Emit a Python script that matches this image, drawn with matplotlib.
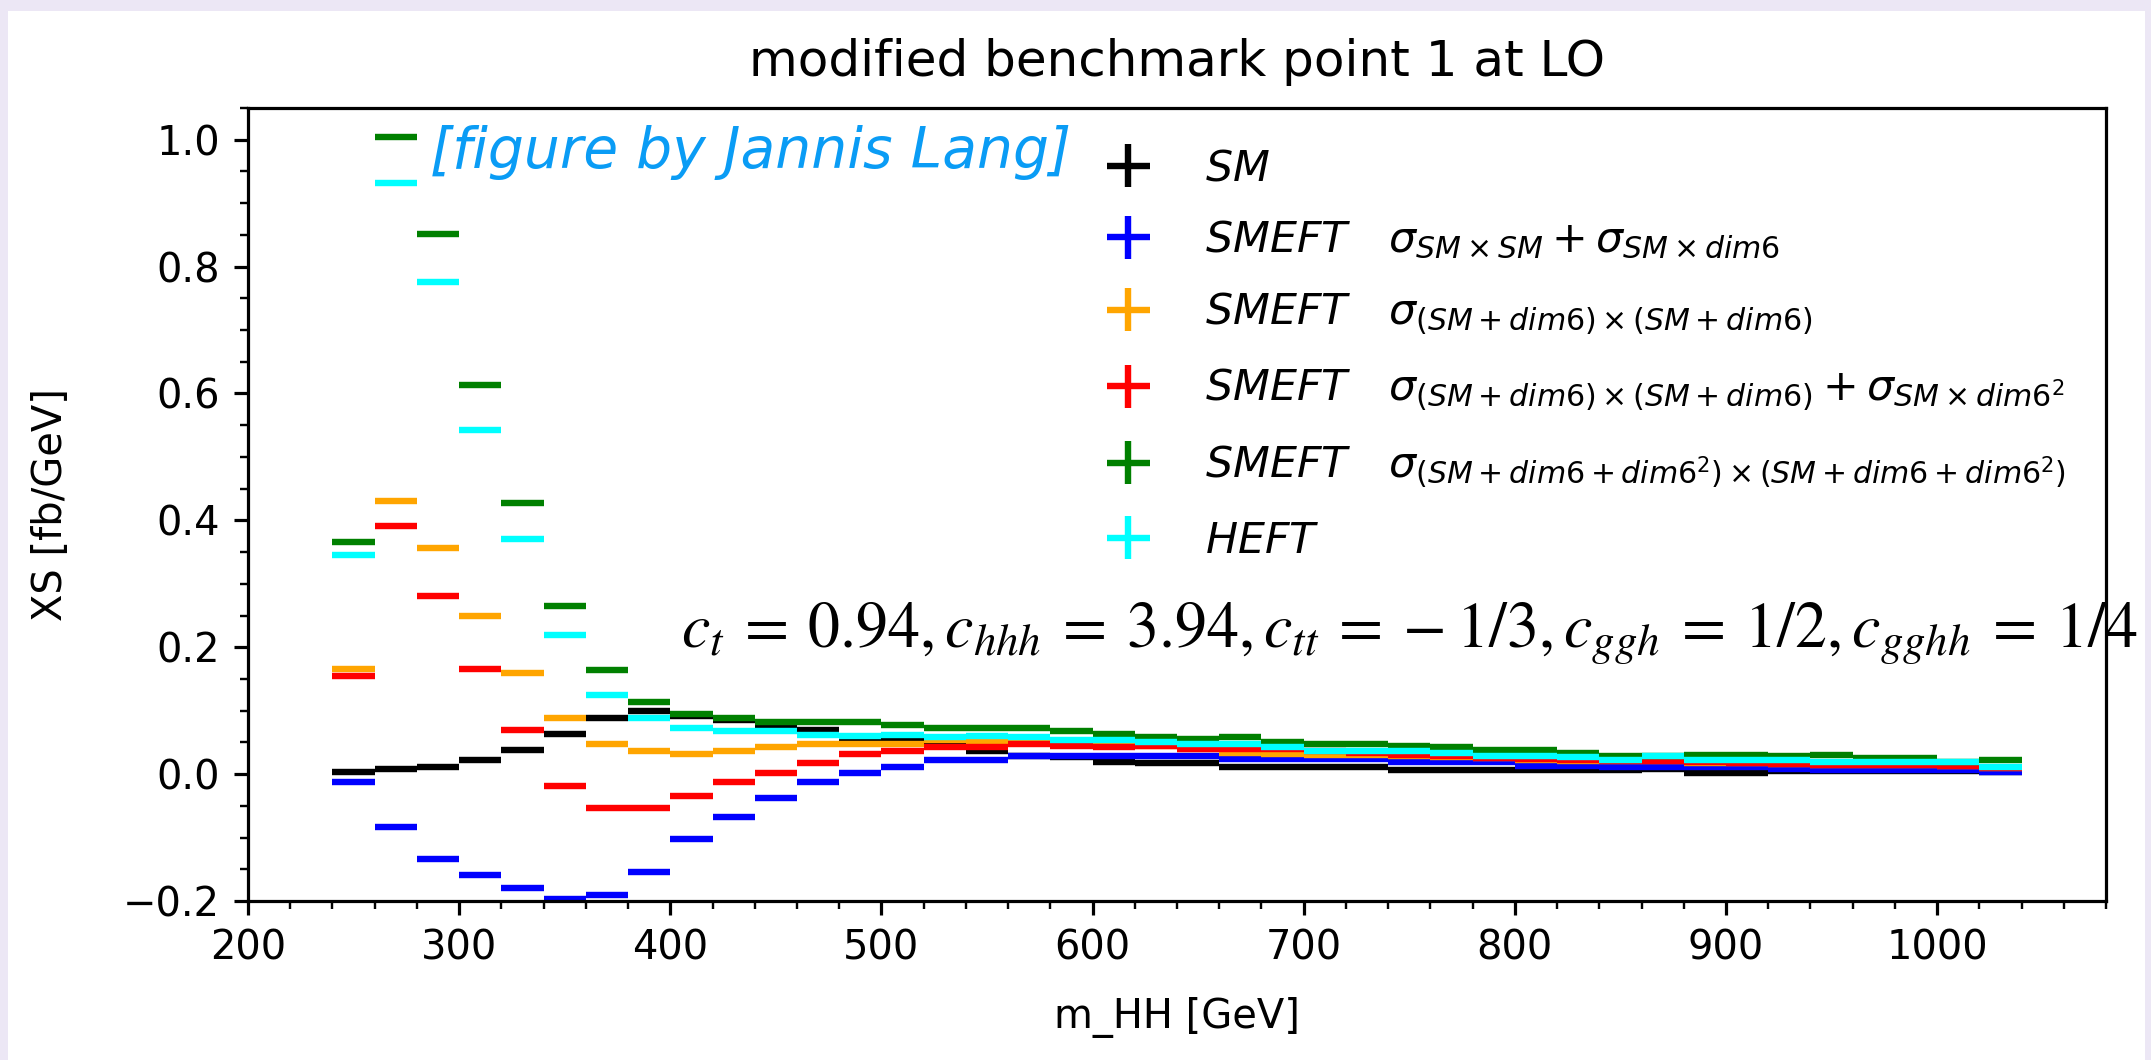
import numpy as np
import matplotlib
matplotlib.use('Agg')
import matplotlib.pyplot as plt
from matplotlib.patches import Rectangle

# bin centres of m_HH [GeV], 20 GeV wide bins from 240 to 1040
m_hh = [250, 270, 290, 310, 330, 350, 370, 390, 410, 430,
        450, 470, 490, 510, 530, 550, 570, 590, 610, 630,
        650, 670, 690, 710, 730, 750, 770, 790, 810, 830,
        850, 870, 890, 910, 930, 950, 970, 990, 1010, 1030]
half_bin = 10

xs_sm = [0.003, 0.008, 0.012, 0.023, 0.038, 0.063, 0.088, 0.099, 0.092, 0.085,
         0.076, 0.070, 0.055, 0.055, 0.048, 0.037, 0.028, 0.027, 0.019, 0.017,
         0.017, 0.012, 0.012, 0.012, 0.012, 0.007, 0.007, 0.007, 0.007, 0.007,
         0.007, 0.008, 0.001, 0.001, 0.005, 0.005, 0.005, 0.005, 0.005, 0.003]
xs_lin = [-0.013, -0.084, -0.134, -0.159, -0.180, -0.197, -0.190, -0.155, -0.103, -0.068,
          -0.038, -0.013, 0.002, 0.012, 0.023, 0.023, 0.028, 0.028, 0.028, 0.028,
          0.029, 0.024, 0.024, 0.024, 0.024, 0.019, 0.019, 0.019, 0.013, 0.013,
          0.012, 0.012, 0.011, 0.011, 0.008, 0.007, 0.007, 0.007, 0.007, 0.003]
xs_sq = [0.165, 0.431, 0.356, 0.250, 0.159, 0.088, 0.047, 0.037, 0.032, 0.036,
         0.042, 0.047, 0.048, 0.048, 0.054, 0.052, 0.050, 0.048, 0.046, 0.044,
         0.040, 0.034, 0.032, 0.030, 0.030, 0.029, 0.027, 0.025, 0.022, 0.021,
         0.020, 0.020, 0.018, 0.018, 0.016, 0.015, 0.014, 0.014, 0.013, 0.010]
xs_sq_dim6sq = [0.155, 0.391, 0.280, 0.165, 0.069, -0.018, -0.053, -0.053, -0.034, -0.013,
                0.002, 0.017, 0.032, 0.037, 0.043, 0.043, 0.048, 0.045, 0.043, 0.045,
                0.040, 0.040, 0.040, 0.036, 0.034, 0.030, 0.028, 0.026, 0.024, 0.022,
                0.021, 0.020, 0.019, 0.018, 0.016, 0.015, 0.014, 0.014, 0.013, 0.010]
xs_full = [0.366, 1.004, 0.852, 0.614, 0.427, 0.265, 0.164, 0.113, 0.094, 0.088,
           0.082, 0.082, 0.082, 0.077, 0.073, 0.073, 0.073, 0.068, 0.064, 0.059,
           0.056, 0.058, 0.051, 0.048, 0.048, 0.045, 0.042, 0.038, 0.038, 0.034,
           0.029, 0.028, 0.030, 0.030, 0.029, 0.030, 0.026, 0.026, 0.019, 0.022]
xs_heft = [0.346, 0.932, 0.775, 0.543, 0.371, 0.219, 0.124, 0.088, 0.072, 0.068,
           0.068, 0.062, 0.060, 0.061, 0.058, 0.060, 0.058, 0.053, 0.053, 0.051,
           0.048, 0.048, 0.043, 0.037, 0.037, 0.037, 0.034, 0.029, 0.029, 0.027,
           0.022, 0.028, 0.023, 0.023, 0.022, 0.019, 0.019, 0.019, 0.019, 0.012]

series = [
    (xs_sm, 'black', r'$SM$'),
    (xs_lin, 'blue', r'$SMEFT\quad\sigma_{SM\times SM}+\sigma_{SM\times dim6}$'),
    (xs_sq, 'orange', r'$SMEFT\quad\sigma_{(SM+dim6)\times(SM+dim6)}$'),
    (xs_sq_dim6sq, 'red', r'$SMEFT\quad\sigma_{(SM+dim6)\times(SM+dim6)}+\sigma_{SM\times dim6^2}$'),
    (xs_full, 'green', r'$SMEFT\quad\sigma_{(SM+dim6+dim6^2)\times(SM+dim6+dim6^2)}$'),
    (xs_heft, 'cyan', r'$HEFT$'),
]

W, H = 2151, 1060
DPI = 288
fig = plt.figure(figsize=(W / DPI, H / DPI), dpi=DPI, facecolor='#ece7f5')
# white sheet inside the lavender frame
fig.patches.append(Rectangle((8 / W, 0), (2145 - 8) / W, (H - 11) / H,
                             transform=fig.transFigure, facecolor='white',
                             edgecolor='none', zorder=-10))

ax = fig.add_axes([248 / W, 1 - 901 / H, (2106 - 248) / W, (901 - 108) / H])

for vals, col, lab in series:
    ax.errorbar(m_hh, vals, xerr=half_bin, yerr=np.zeros(len(vals)),
                fmt='none', ecolor=col, elinewidth=1.6, label=lab)

ax.set_xlim(200, 1080)
ax.set_ylim(-0.2, 1.05)
ax.minorticks_on()
ax.set_xlabel('m_HH [GeV]', labelpad=7)
ax.set_ylabel('XS [fb/GeV]', labelpad=13)
ax.set_title('modified benchmark point 1 at LO', fontsize=12.5, pad=8)
ax.legend(loc='upper right', frameon=False, fontsize=10.7,
          labelspacing=0.68, borderaxespad=0.53)

ax.text(405, 0.2,
        r'$c_t\:=\:0.94, c_{hhh}\:=\:3.94, c_{tt}\:=\:-\:1/3, c_{ggh}\:=\:1/2, c_{gghh}\:=\:1/4$',
        fontsize=16, math_fontfamily='stix', zorder=1)

fig.text(430 / W, 1 - 168 / H, '[figure by Jannis Lang]', color='#0a9cf5',
         fontsize=14.2, style='italic', va='baseline')

fig.savefig('out.png', dpi=DPI, facecolor=fig.get_facecolor())
